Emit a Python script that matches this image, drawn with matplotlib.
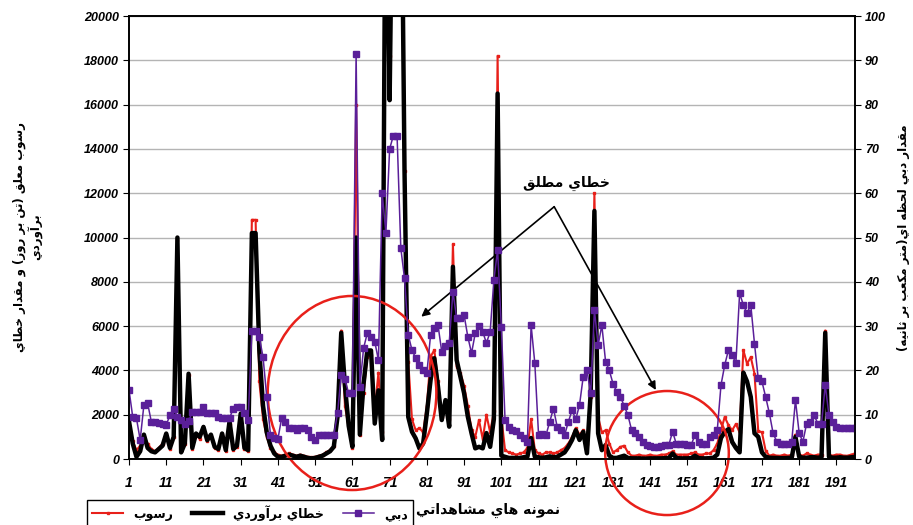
import numpy as np
import matplotlib
matplotlib.use("Agg")
import matplotlib.pyplot as plt
from matplotlib.patches import Ellipse

# observation number 1..196
obs = np.arange(1, 197)

# رسوب (red, left axis)
sediment = [
    1800, 800, 400, 600, 1000, 700, 450, 350, 500, 700,
    1100, 450, 1000, 9900, 350, 700, 3800, 450, 1100, 900,
    1400, 800, 1000, 500, 400, 1100, 350, 1600, 400, 550,
    1900, 450, 350, 10800, 10800, 3500, 1800, 1000, 500, 300,
    200, 150, 200, 250, 200, 150, 200, 150, 100, 80,
    100, 150, 200, 300, 400, 600, 2000, 5800, 2400, 1400,
    500, 16000, 1100, 3000, 4600, 4700, 2200, 3900, 1200, 30000,
    18200, 30000, 30000, 30000, 13000, 4400, 1800, 1300, 1400, 1200,
    2400, 4620, 4920, 3500, 1900, 2300, 1800, 9700, 4170, 3900,
    3300, 2400, 1300, 1000, 1760, 900, 2000, 1200, 2160, 18200,
    1900, 400, 300, 250, 200, 250, 300, 500, 1800, 400,
    250, 200, 300, 300, 250, 300, 400, 500, 700, 1000,
    1400, 1100, 1300, 700, 2800, 12000, 1900, 1200, 1300, 700,
    300, 400, 550, 600, 300, 150, 150, 200, 150, 150,
    200, 150, 150, 200, 200, 250, 350, 200, 200, 200,
    200, 250, 300, 200, 200, 250, 250, 400, 700, 1300,
    1900, 1530, 1300, 1580, 1200, 4920, 4300, 4600, 3850, 1280,
    1200, 370, 150, 200, 150, 150, 200, 150, 200, 1100,
    200, 150, 250, 200, 150, 200, 200, 5800, 200, 150,
    200, 200, 150, 150, 200, 250,
]

# خطاي برآوردي (black, left axis)
est_error = [
    1700, 700, 100, 350, 1100, 500, 350, 300, 450, 600,
    1150, 500, 1000, 10000, 300, 700, 3850, 500, 1150, 1000,
    1450, 850, 1100, 550, 450, 1150, 400, 1700, 450, 600,
    2050, 500, 400, 10200, 10200, 4900, 2400, 1200, 600, 250,
    100, 100, 150, 200, 150, 100, 150, 100, 50, 30,
    50, 100, 150, 250, 350, 550, 1900, 5700, 3300, 1500,
    550, 10000, 1100, 3400, 4900, 4900, 1600, 3100, 860, 30000,
    16200, 30000, 30000, 30000, 13000, 1900, 1230, 930, 480, 700,
    2060, 3570, 4550, 3260, 1760, 2660, 1460, 8680, 4470, 3720,
    2970, 1910, 1160, 480, 550, 480, 1170, 550, 1800, 16500,
    150, 100, 50, 50, 50, 50, 80, 100, 950, 100,
    80, 50, 80, 120, 80, 100, 200, 300, 550, 860,
    1300, 860, 1230, 260, 2970, 11200, 1160, 400, 630, 150,
    50, 50, 100, 150, 50, 30, 30, 30, 20, 20,
    30, 30, 30, 30, 40, 50, 250, 50, 30, 30,
    30, 40, 150, 40, 30, 30, 40, 60, 200, 950,
    1220, 1350, 770, 500, 300, 3900, 3500, 2800, 1160, 1000,
    300, 100, 60, 50, 50, 40, 40, 50, 60, 1000,
    100, 60, 60, 80, 80, 60, 80, 5700, 100, 60,
    60, 80, 60, 60, 80, 100,
]

# دبي (purple, right axis)
discharge = [
    15.6, 9.5, 9.2, 4.3, 12.2, 12.6, 8.4, 8.4, 8.2, 8.0,
    7.7, 9.9, 11.4, 9.5, 8.8, 8.0, 8.5, 10.7, 10.7, 10.7,
    11.8, 10.3, 10.3, 10.3, 9.5, 9.2, 9.2, 9.2, 11.4, 11.8,
    11.8, 10.3, 8.8, 29.0, 29.0, 27.5, 23.0, 14.0, 5.4, 4.7,
    4.5, 9.3, 8.4, 7.0, 7.0, 6.5, 7.0, 7.0, 6.5, 5.0,
    4.3, 5.4, 5.4, 5.4, 5.4, 5.4, 10.3, 19.0, 18.0, 14.8,
    14.8, 91.5, 16.3, 25.0, 28.4, 27.6, 26.5, 22.3, 60.0, 51.0,
    70.0, 73.0, 73.0, 47.6, 40.8, 28.0, 24.6, 22.8, 21.2, 20.0,
    19.4, 28.0, 29.6, 30.2, 24.2, 25.4, 26.2, 37.8, 31.8, 31.8,
    32.5, 27.6, 23.9, 28.4, 30.0, 28.7, 26.2, 28.7, 40.4, 47.2,
    29.9, 8.8, 7.3, 6.5, 6.3, 5.4, 4.7, 3.9, 30.2, 21.6,
    5.4, 5.6, 5.4, 8.4, 11.4, 7.3, 6.6, 5.4, 8.4, 11.0,
    9.0, 12.2, 18.6, 20.0, 14.8, 33.6, 25.7, 30.2, 22.0, 20.0,
    17.0, 15.2, 14.0, 12.0, 9.9, 6.5, 5.8, 5.0, 3.9, 3.2,
    3.0, 2.8, 2.8, 3.0, 3.2, 3.2, 6.2, 3.4, 3.4, 3.4,
    3.2, 3.2, 5.4, 3.9, 3.4, 3.4, 5.0, 5.4, 6.5, 16.7,
    21.2, 24.6, 23.5, 21.6, 37.4, 34.8, 32.9, 34.8, 26.0, 18.2,
    17.5, 14.0, 10.3, 5.8, 3.9, 3.4, 3.4, 3.4, 3.9, 13.3,
    5.8, 3.9, 8.0, 8.4, 9.9, 8.0, 8.0, 16.7, 9.9, 8.4,
    7.3, 7.0, 7.0, 7.0, 7.0, 7.0,
]

x_ticks = list(range(1, 192, 10))
left_ticks = list(range(0, 20001, 2000))
right_ticks = list(range(0, 101, 10))

# minimal Arabic/Persian shaping (matplotlib has no bidi support)
FORMS = {
    'ا': ('\uFE8D', '\uFE8E', None, None),
    'آ': ('\uFE81', '\uFE82', None, None),
    'د': ('\uFEA9', '\uFEAA', None, None),
    'ر': ('\uFEAD', '\uFEAE', None, None),
    'و': ('\uFEED', '\uFEEE', None, None),
    'ب': ('\uFE8F', '\uFE90', '\uFE91', '\uFE92'),
    'ت': ('\uFE95', '\uFE96', '\uFE97', '\uFE98'),
    'ث': ('\uFE99', '\uFE9A', '\uFE9B', '\uFE9C'),
    'ح': ('\uFEA1', '\uFEA2', '\uFEA3', '\uFEA4'),
    'خ': ('\uFEA5', '\uFEA6', '\uFEA7', '\uFEA8'),
    'س': ('\uFEB1', '\uFEB2', '\uFEB3', '\uFEB4'),
    'ش': ('\uFEB5', '\uFEB6', '\uFEB7', '\uFEB8'),
    'ط': ('\uFEC1', '\uFEC2', '\uFEC3', '\uFEC4'),
    'ظ': ('\uFEC5', '\uFEC6', '\uFEC7', '\uFEC8'),
    'ع': ('\uFEC9', '\uFECA', '\uFECB', '\uFECC'),
    'ق': ('\uFED5', '\uFED6', '\uFED7', '\uFED8'),
    'ك': ('\uFED9', '\uFEDA', '\uFEDB', '\uFEDC'),
    'ل': ('\uFEDD', '\uFEDE', '\uFEDF', '\uFEE0'),
    'م': ('\uFEE1', '\uFEE2', '\uFEE3', '\uFEE4'),
    'ن': ('\uFEE5', '\uFEE6', '\uFEE7', '\uFEE8'),
    'ه': ('\uFEE9', '\uFEEA', '\uFEEB', '\uFEEC'),
    'ي': ('\uFEF1', '\uFEF2', '\uFEF3', '\uFEF4'),
}


def shape_line(text):
    out = []
    n = len(text)
    for k, ch in enumerate(text):
        if ch not in FORMS:
            out.append(ch)
            continue
        f = FORMS[ch]
        prev = text[k - 1] if k > 0 else ''
        nxt = text[k + 1] if k < n - 1 else ''
        join_prev = prev in FORMS and FORMS[prev][2] is not None
        join_next = f[2] is not None and nxt in FORMS
        if join_prev and join_next:
            out.append(f[3])
        elif join_prev:
            out.append(f[1])
        elif join_next:
            out.append(f[2])
        else:
            out.append(f[0])
    return ''.join(out)[::-1].translate(str.maketrans('()', ')('))


def fa(text):
    return '\n'.join(shape_line(t) for t in text.split('\n'))


RED = '#e8201a'
PURPLE = '#5a1f99'
tick_font = dict(family='Liberation Sans', weight='bold', style='italic')

fig = plt.figure(figsize=(9.13, 5.25), dpi=100)
ax = fig.add_axes([0.1413, 0.1257, 0.7952, 0.8438])
ax2 = ax.twinx()

ax.grid(axis='y', color='#b4b4b4', lw=1)
ax.set_axisbelow(True)

l_red, = ax.plot(obs, sediment, color=RED, lw=1.5, marker='s', ms=2,
                 zorder=2, label=fa('رسوب'))
l_blk, = ax.plot(obs, est_error, color='black', lw=3.2, zorder=3,
                 label=fa('خطاي برآوردي'))
l_pur, = ax2.plot(obs, discharge, color=PURPLE, lw=1.1, marker='s', ms=5,
                  label=fa('دبي'))

ax.set_xlim(1, 196)
ax.set_ylim(0, 20000)
ax2.set_ylim(0, 100)
ax.set_xticks(x_ticks)
ax.set_yticks(left_ticks)
ax2.set_yticks(right_ticks)

for spine in list(ax.spines.values()) + list(ax2.spines.values()):
    spine.set_color('black')
    spine.set_linewidth(1.2)

ax.tick_params(axis='x', direction='out', length=4, pad=8)
ax.tick_params(axis='y', direction='out', length=4, pad=3)
ax2.tick_params(axis='y', direction='out', length=4, pad=3)
for lab in ax.get_xticklabels():
    lab.set(fontsize=10, **tick_font)
for lab in ax.get_yticklabels() + ax2.get_yticklabels():
    lab.set(fontsize=9, **tick_font)

# highlighted regions and annotation
ax.add_patch(Ellipse((60.9, 2980), 45.3, 8760, fill=False, edgecolor=RED,
                     lw=1.8, clip_on=False, zorder=6))
ax.add_patch(Ellipse((145.5, 270), 33.2, 5600, fill=False, edgecolor=RED,
                     lw=1.8, clip_on=False, zorder=6))
for tip in [(79.5, 6425), (142.5, 3115)]:
    ax.annotate('', xy=tip, xytext=(115.2, 11390),
                arrowprops=dict(arrowstyle='-|>', color='black', lw=1.2,
                                mutation_scale=12, shrinkA=0, shrinkB=0),
                zorder=7)
ax.text(118.4, 12460, fa('خطاي مطلق'), ha='center', va='center',
        fontsize=10, fontweight='bold', family='DejaVu Sans', zorder=7)

fig.text(0.031, 0.549, fa('رسوب معلق (تن بر روز) و مقدار خطاي\nبرآوردي'),
         rotation=90, ha='center', va='center', multialignment='center',
         fontsize=8.5, fontweight='bold', family='DejaVu Sans')
fig.text(0.990, 0.548, fa('مقدار دبي لحظه اي(متر مكعب بر ثانيه)'),
         rotation=90, ha='center', va='center',
         fontsize=8.5, fontweight='bold', family='DejaVu Sans')
fig.text(0.535, 0.028, fa('نمونه هاي مشاهداتي'), ha='center', va='center',
         fontsize=10, fontweight='bold', family='DejaVu Sans')

fig.legend(handles=[l_red, l_blk, l_pur], loc='upper left',
           bbox_to_anchor=(0.0953, 0.0476), ncol=3, fancybox=False,
           edgecolor='black', framealpha=1, borderaxespad=0,
           prop=dict(family='DejaVu Sans', weight='bold', size=9),
           handlelength=2.5, columnspacing=1.5)

fig.savefig('out.png', dpi=100)
